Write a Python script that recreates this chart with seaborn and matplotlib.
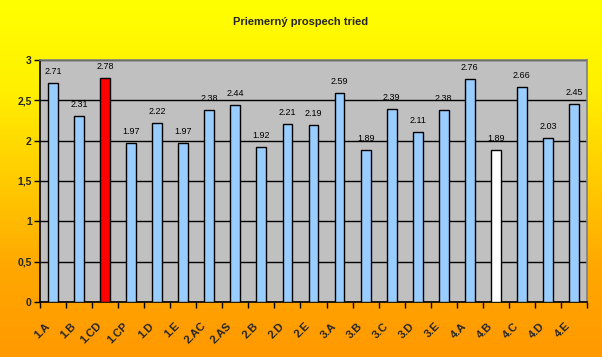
import matplotlib
matplotlib.use("Agg")
import matplotlib.pyplot as plt
import matplotlib.transforms as mtransforms
from matplotlib.colors import LinearSegmentedColormap
import numpy as np
import pandas as pd
import seaborn as sns

categories = ["1.A", "1.B", "1.CD", "1.CP", "1.D", "1.E", "2.AC", "2.AS", "2.B", "2.D", "2.E",
              "3.A", "3.B", "3.C", "3.D", "3.E", "4.A", "4.B", "4.C", "4.D", "4.E"]
values = [2.71, 2.31, 2.78, 1.97, 2.22, 1.97, 2.38, 2.44, 1.92, 2.21, 2.19,
          2.59, 1.89, 2.39, 2.11, 2.38, 2.76, 1.89, 2.66, 2.03, 2.45]
bar_colors = ["#99CCFF"] * 21
bar_colors[2] = "#FF0000"
bar_colors[17] = "#FFFFFF"
yticks = [0, 0.5, 1, 1.5, 2, 2.5, 3]
ytick_labels = ["0", "0,5", "1", "1,5", "2", "2,5", "3"]
title = "Priemerný prospech tried"

sns.set_theme(style="white")
plt.rcParams["font.family"] = ["Liberation Sans", "DejaVu Sans"]

fig = plt.figure(figsize=(6.02, 3.57), dpi=100)

# gradient background
bg = fig.add_axes([0, 0, 1, 1], zorder=-10)
cmap = LinearSegmentedColormap.from_list("bg", ["#FFFF00", "#FFF000", "#FFCC00", "#FFA800", "#FF9900"])
grad = np.linspace(0, 1, 256).reshape(-1, 1)
bg.imshow(grad, aspect="auto", cmap=cmap, extent=[0, 1, 0, 1], origin="upper")
bg.set_axis_off()

ax = fig.add_axes([40 / 602, 1 - 302 / 357, 547 / 602, 242 / 357])
ax.set_facecolor("#C0C0C0")

df = pd.DataFrame({"cls": categories, "val": values})
sns.barplot(data=df, x="cls", y="val", hue="cls", palette=bar_colors, legend=False,
            width=0.38, edgecolor="black", linewidth=1.0, saturation=1, ax=ax, zorder=3)

ax.set_ylim(0, 3)
ax.set_xlim(-0.5, len(categories) - 0.5)
ax.set_yticks(yticks)
ax.set_yticklabels(ytick_labels, fontsize=7.5, fontweight="bold")
ax.yaxis.grid(True, color="black", linewidth=1.0, zorder=0)
ax.set_axisbelow(True)
ax.set_xlabel("")
ax.set_ylabel("")

ax.set_xticks(range(len(categories)))
ax.set_xticklabels(categories, fontsize=8, fontweight="bold", rotation=45,
                   ha="right", va="center", rotation_mode="anchor")
ax.set_xticks(np.arange(-0.5, len(categories), 1), minor=True)
ax.tick_params(axis="x", which="major", length=0, pad=16)
ax.tick_params(axis="x", which="minor", length=4, width=1, color="black", bottom=True)
ax.tick_params(axis="y", which="major", length=4, width=1, color="black", left=True, pad=2)
offset = mtransforms.ScaledTranslation(-5 / 100, 0, fig.dpi_scale_trans)
for lab in ax.get_xticklabels():
    lab.set_transform(lab.get_transform() + offset)

for side in ["left", "bottom"]:
    ax.spines[side].set_color("black")
    ax.spines[side].set_linewidth(1.2)
for side in ["top", "right"]:
    ax.spines[side].set_color("#808080")
    ax.spines[side].set_linewidth(1.2)

for i, v in enumerate(values):
    ax.annotate(f"{v:.2f}", (i, v), xytext=(0, 5), textcoords="offset points",
                ha="center", va="bottom", fontsize=6.5, color="black", zorder=5)

fig.text(0.5, 1 - 22 / 357, title, ha="center", va="center", fontsize=8, fontweight="bold")

fig.savefig("out.png", dpi=100)
